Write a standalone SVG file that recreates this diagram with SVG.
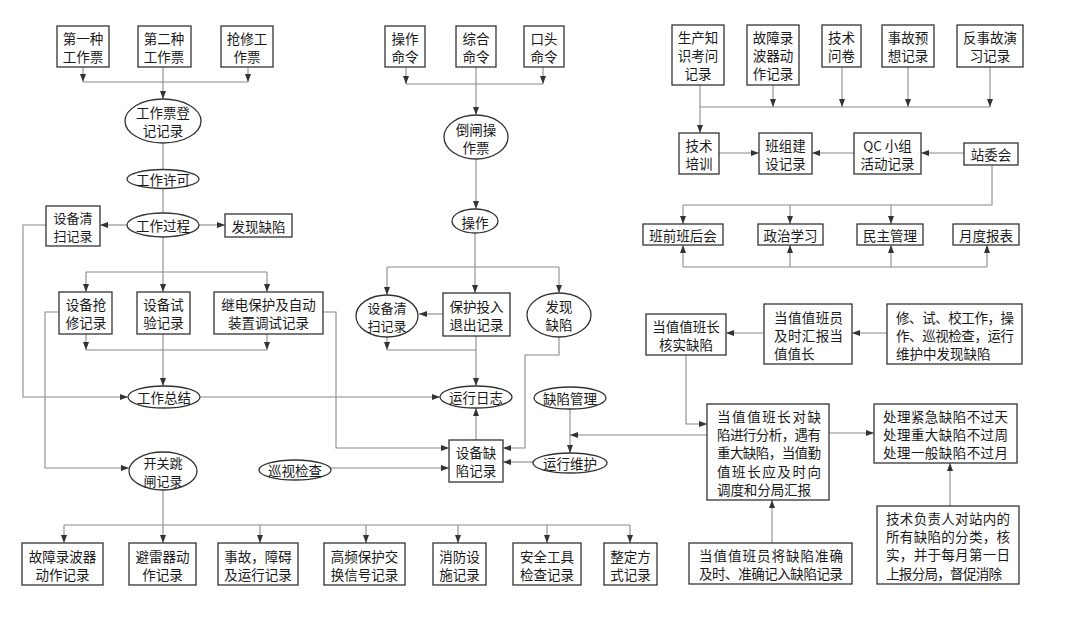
<svg xmlns="http://www.w3.org/2000/svg" width="1087" height="617" viewBox="0 0 1087 617">
<defs>
<marker id="ah" viewBox="0 0 8 6" refX="8" refY="3" markerWidth="8" markerHeight="6" markerUnits="userSpaceOnUse" orient="auto">
<path d="M0,0 L8,3 L0,6 Z" fill="#333"/>
</marker>
<style>
.b{fill:#fff;stroke:#333;stroke-width:1.3}
.c{fill:none;stroke:#8a8a8a;stroke-width:1.1}
.a{marker-end:url(#ah)}
text{font-family:"Noto Sans CJK SC","Noto Sans",sans-serif;font-size:13.5px;fill:#1a1a1a;dominant-baseline:central}
.m{text-anchor:middle}
.s{font-size:13px}
</style>
</defs>
<rect width="1087" height="617" fill="#fff"/>

<g id="connectors">
<path class="c a" d="M83,67 V82"/>
<path class="c a" d="M248,67 V82"/>
<path class="c" d="M83,82 H248"/>
<path class="c a" d="M163,67 V99"/>
<path class="c" d="M163,143 V170"/>
<path class="c" d="M163,188 V213"/>
<path class="c a" d="M127,225 H100"/>
<path class="c a" d="M199,225 H225"/>
<path class="c a" d="M46,225 H23 V397 H128"/>
<path class="c a" d="M163,237 V292"/>
<path class="c" d="M86,272 H267"/>
<path class="c a" d="M86,272 V292"/>
<path class="c a" d="M267,272 V292"/>
<path class="c a" d="M86,334 V350"/>
<path class="c a" d="M267,334 V350"/>
<path class="c" d="M86,350 H267"/>
<path class="c a" d="M163,334 V386"/>
<path class="c a" d="M59,312 H45 V468 H129"/>
<path class="c a" d="M323,312 H336 V448 H449"/>
<path class="c a" d="M200,397 H440"/>
<path class="c" d="M163,489 V525"/>
<path class="c" d="M64,525 H630"/>
<path class="c a" d="M64,525 V543"/>
<path class="c a" d="M163,525 V543"/>
<path class="c a" d="M260,525 V543"/>
<path class="c a" d="M366,525 V543"/>
<path class="c a" d="M458,525 V543"/>
<path class="c a" d="M547,525 V543"/>
<path class="c a" d="M630,525 V543"/>
<path class="c a" d="M406,67 V84"/>
<path class="c a" d="M543,67 V84"/>
<path class="c" d="M406,84 H543"/>
<path class="c a" d="M476,67 V115"/>
<path class="c a" d="M476,159 V209"/>
<path class="c a" d="M475,233 V293"/>
<path class="c" d="M387,267 H559"/>
<path class="c a" d="M387,267 V295"/>
<path class="c a" d="M559,267 V293"/>
<path class="c a" d="M443,314 H419"/>
<path class="c a" d="M387,337 V350"/>
<path class="c" d="M387,350 H476"/>
<path class="c a" d="M476,336 V386"/>
<path class="c a" d="M559,337 V355 H525 V448 H503"/>
<path class="c a" d="M476,440 V408"/>
<path class="c a" d="M331,468 H449"/>
<path class="c a" d="M533,462 H503"/>
<path class="c a" d="M570,409 V453"/>
<path class="c a" d="M707,435 H570"/>
<path class="c a" d="M700,85 V133"/>
<path class="c" d="M700,107 H990"/>
<path class="c a" d="M773,85 V107"/>
<path class="c a" d="M842,67 V107"/>
<path class="c a" d="M908,67 V107"/>
<path class="c a" d="M990,67 V107"/>
<path class="c a" d="M719,153 H759"/>
<path class="c a" d="M854,153 H812"/>
<path class="c a" d="M964,153 H921"/>
<path class="c" d="M992,165 V205 H683"/>
<path class="c a" d="M683,205 V224"/>
<path class="c a" d="M790,205 V224"/>
<path class="c a" d="M891,205 V224"/>
<path class="c" d="M683,267 H987"/>
<path class="c a" d="M683,267 V245"/>
<path class="c a" d="M790,267 V245"/>
<path class="c a" d="M891,267 V245"/>
<path class="c a" d="M987,267 V245"/>
<path class="c a" d="M887,333 H852"/>
<path class="c a" d="M764,333 H726"/>
<path class="c a" d="M686,355 V424 H707"/>
<path class="c a" d="M829,433 H874"/>
<path class="c a" d="M950,506 V463"/>
<path class="c a" d="M772,543 V500"/>
</g>

<g id="n-diyizhong"><rect class="b" x="57" y="26" width="52" height="41"/><text class="m" x="83" y="38">第一种</text><text class="m" x="83" y="56">工作票</text></g>
<g id="n-dierzhong"><rect class="b" x="138" y="26" width="53" height="41"/><text class="m" x="164" y="38">第二种</text><text class="m" x="164" y="56">工作票</text></g>
<g id="n-qiangxiu"><rect class="b" x="221" y="26" width="52" height="41"/><text class="m" x="247" y="38">抢修工</text><text class="m" x="247" y="56">作票</text></g>
<g id="n-gzpdj"><ellipse class="b" cx="163" cy="121" rx="38" ry="22"/><text class="m" x="163" y="112">工作票登</text><text class="m" x="163" y="130">记记录</text></g>
<g id="n-gzxk"><ellipse class="b" cx="163" cy="179" rx="36" ry="9.5"/><text class="m" x="163" y="179">工作许可</text></g>
<g id="n-gzgc"><ellipse class="b" cx="163" cy="225" rx="36" ry="12"/><text class="m" x="163" y="225">工作过程</text></g>
<g id="n-sbqs1"><rect class="b" x="46" y="206" width="54" height="40"/><text class="m s" x="73" y="217">设备清</text><text class="m s" x="73" y="235">扫记录</text></g>
<g id="n-fxqx1"><rect class="b" x="225" y="214" width="67" height="23"/><text class="m" x="258.5" y="226">发现缺陷</text></g>
<g id="n-sbqx"><rect class="b" x="59" y="292" width="53" height="42"/><text class="m" x="86" y="304">设备抢</text><text class="m" x="86" y="322">修记录</text></g>
<g id="n-sbsy"><rect class="b" x="137" y="292" width="53" height="42"/><text class="m" x="163.5" y="304">设备试</text><text class="m" x="163.5" y="322">验记录</text></g>
<g id="n-jdbh"><rect class="b" x="214" y="292" width="109" height="42"/><text class="m" x="268.5" y="304">继电保护及自动</text><text class="m" x="268.5" y="322">装置调试记录</text></g>
<g id="n-gzzj"><ellipse class="b" cx="164" cy="397" rx="36" ry="11"/><text class="m" x="164" y="397">工作总结</text></g>
<g id="n-kgtz"><ellipse class="b" cx="163" cy="471" rx="34" ry="19"/><text class="m s" x="163" y="462">开关跳</text><text class="m s" x="163" y="480">闸记录</text></g>
<g id="n-xsjc"><ellipse class="b" cx="295" cy="470" rx="36" ry="10"/><text class="m" x="295" y="470">巡视检查</text></g>

<g id="n-gzlb"><rect class="b" x="22" y="543" width="81" height="42"/><text class="m" x="62.5" y="556">故障录波器</text><text class="m" x="62.5" y="574">动作记录</text></g>
<g id="n-blq"><rect class="b" x="129" y="543" width="67" height="42"/><text class="m" x="162.5" y="556">避雷器动</text><text class="m" x="162.5" y="574">作记录</text></g>
<g id="n-sgza"><rect class="b" x="218" y="543" width="80" height="42"/><text class="m" x="258" y="556">事故，障碍</text><text class="m" x="258" y="574">及运行记录</text></g>
<g id="n-gpbh"><rect class="b" x="324" y="543" width="81" height="42"/><text class="m" x="364.5" y="556">高频保护交</text><text class="m" x="364.5" y="574">换信号记录</text></g>
<g id="n-xfss"><rect class="b" x="433" y="543" width="53" height="42"/><text class="m" x="459.5" y="556">消防设</text><text class="m" x="459.5" y="574">施记录</text></g>
<g id="n-aqgj"><rect class="b" x="513" y="543" width="68" height="42"/><text class="m" x="547" y="556">安全工具</text><text class="m" x="547" y="574">检查记录</text></g>
<g id="n-zdfs"><rect class="b" x="604" y="543" width="53" height="42"/><text class="m" x="630.5" y="556">整定方</text><text class="m" x="630.5" y="574">式记录</text></g>

<g id="n-czml"><rect class="b" x="385" y="26" width="40" height="41"/><text class="m" x="405" y="38">操作</text><text class="m" x="405" y="56">命令</text></g>
<g id="n-zhml"><rect class="b" x="456" y="26" width="40" height="41"/><text class="m" x="476" y="38">综合</text><text class="m" x="476" y="56">命令</text></g>
<g id="n-ktml"><rect class="b" x="524" y="26" width="40" height="41"/><text class="m" x="544" y="38">口头</text><text class="m" x="544" y="56">命令</text></g>
<g id="n-dzczp"><ellipse class="b" cx="476" cy="137" rx="32" ry="22"/><text class="m" x="476" y="129">倒闸操</text><text class="m" x="476" y="147">作票</text></g>
<g id="n-cz"><ellipse class="b" cx="475" cy="221" rx="23" ry="12"/><text class="m" x="475" y="222">操作</text></g>
<g id="n-sbqs2"><ellipse class="b" cx="387" cy="316" rx="31" ry="21"/><text class="m s" x="387" y="307">设备清</text><text class="m s" x="387" y="325">扫记录</text></g>
<g id="n-bhtr"><rect class="b" x="443" y="293" width="67" height="43"/><text class="m" x="476.5" y="306">保护投入</text><text class="m" x="476.5" y="324">退出记录</text></g>
<g id="n-fxqx2"><ellipse class="b" cx="559" cy="315" rx="32" ry="22"/><text class="m" x="559" y="306">发现</text><text class="m" x="559" y="324">缺陷</text></g>
<g id="n-yxrz"><ellipse class="b" cx="476" cy="397" rx="36" ry="11"/><text class="m" x="476" y="397">运行日志</text></g>
<g id="n-qxgl"><ellipse class="b" cx="570" cy="398" rx="36" ry="11"/><text class="m" x="570" y="398">缺陷管理</text></g>
<g id="n-sbqxjl"><rect class="b" x="449" y="440" width="54" height="42"/><text class="m" x="476" y="452">设备缺</text><text class="m" x="476" y="470">陷记录</text></g>
<g id="n-yxwh"><ellipse class="b" cx="570" cy="463" rx="37" ry="10"/><text class="m" x="570" y="463">运行维护</text></g>

<g id="n-sczs"><rect class="b" x="672" y="25" width="52" height="60"/><text class="m" x="698" y="37">生产知</text><text class="m" x="698" y="55">识考问</text><text class="m" x="698" y="73">记录</text></g>
<g id="n-gzlbq"><rect class="b" x="747" y="25" width="52" height="60"/><text class="m" x="773" y="37">故障录</text><text class="m" x="773" y="55">波器动</text><text class="m" x="773" y="73">作记录</text></g>
<g id="n-jswj"><rect class="b" x="822" y="25" width="39" height="42"/><text class="m" x="841.5" y="37">技术</text><text class="m" x="841.5" y="55">问卷</text></g>
<g id="n-sgyx"><rect class="b" x="882" y="25" width="52" height="42"/><text class="m" x="908" y="37">事故预</text><text class="m" x="908" y="55">想记录</text></g>
<g id="n-fsgyx"><rect class="b" x="957" y="25" width="66" height="42"/><text class="m" x="990" y="37">反事故演</text><text class="m" x="990" y="55">习记录</text></g>
<g id="n-jspx"><rect class="b" x="679" y="133" width="40" height="41"/><text class="m" x="699" y="145">技术</text><text class="m" x="699" y="163">培训</text></g>
<g id="n-bzjs"><rect class="b" x="759" y="133" width="53" height="41"/><text class="m" x="785.5" y="145">班组建</text><text class="m" x="785.5" y="163">设记录</text></g>
<g id="n-qc"><rect class="b" x="854" y="133" width="67" height="41"/><text class="m" x="887.5" y="145">QC 小组</text><text class="m" x="887.5" y="163">活动记录</text></g>
<g id="n-zwh"><rect class="b" x="964" y="143" width="54" height="22"/><text class="m" x="991" y="154">站委会</text></g>
<g id="n-bqbh"><rect class="b" x="643" y="224" width="80" height="21"/><text class="m" x="683" y="235">班前班后会</text></g>
<g id="n-zzxx"><rect class="b" x="758" y="224" width="65" height="21"/><text class="m" x="790.5" y="235">政治学习</text></g>
<g id="n-mzgl"><rect class="b" x="857" y="224" width="66" height="21"/><text class="m" x="890" y="235">民主管理</text></g>
<g id="n-ydbb"><rect class="b" x="953" y="224" width="66" height="21"/><text class="m" x="986" y="235">月度报表</text></g>

<g id="n-hsqx"><rect class="b" x="646" y="314" width="80" height="41"/><text class="m" x="686" y="326">当值值班长</text><text class="m" x="686" y="344">核实缺陷</text></g>
<g id="n-jshb"><rect class="b" x="764" y="304" width="88" height="60"/><text x="774" y="317" textLength="69" lengthAdjust="spacing">当值值班员</text><text x="774" y="335" textLength="69" lengthAdjust="spacing">及时汇报当</text><text x="774" y="353">值值长</text></g>
<g id="n-xsj"><rect class="b" x="887" y="304" width="135" height="60"/><text x="896" y="317" textLength="118" lengthAdjust="spacing">修、试、校工作，操</text><text x="896" y="335" textLength="118" lengthAdjust="spacing">作、巡视检查，运行</text><text x="896" y="353">维护中发现缺陷</text></g>
<g id="n-fx"><rect class="b" x="707" y="404" width="122" height="96"/><text x="717" y="416" textLength="104" lengthAdjust="spacing">当值值班长对缺</text><text x="717" y="434" textLength="104" lengthAdjust="spacing">陷进行分析，遇有</text><text x="717" y="452" textLength="104" lengthAdjust="spacing">重大缺陷，当值勤</text><text x="717" y="471" textLength="104" lengthAdjust="spacing">值班长应及时向</text><text x="717" y="489" textLength="94" lengthAdjust="spacing">调度和分局汇报</text></g>
<g id="n-cl"><rect class="b" x="874" y="404" width="143" height="59"/><text x="883" y="416" textLength="125" lengthAdjust="spacing">处理紧急缺陷不过天</text><text x="883" y="434" textLength="125" lengthAdjust="spacing">处理重大缺陷不过周</text><text x="883" y="452" textLength="125" lengthAdjust="spacing">处理一般缺陷不过月</text></g>
<g id="n-jsfzr"><rect class="b" x="877" y="506" width="142" height="78"/><text x="886" y="518" textLength="124" lengthAdjust="spacing">技术负责人对站内的</text><text x="886" y="536" textLength="124" lengthAdjust="spacing">所有缺陷的分类，核</text><text x="886" y="554" textLength="124" lengthAdjust="spacing">实，并于每月第一日</text><text x="886" y="573" textLength="116" lengthAdjust="spacing">上报分局，督促消除</text></g>
<g id="n-jlqx"><rect class="b" x="689" y="543" width="163" height="41"/><text x="699" y="555" textLength="144" lengthAdjust="spacing">当值值班员将缺陷准确</text><text x="699" y="573" textLength="144" lengthAdjust="spacing">及时、准确记入缺陷记录</text></g>
</svg>
